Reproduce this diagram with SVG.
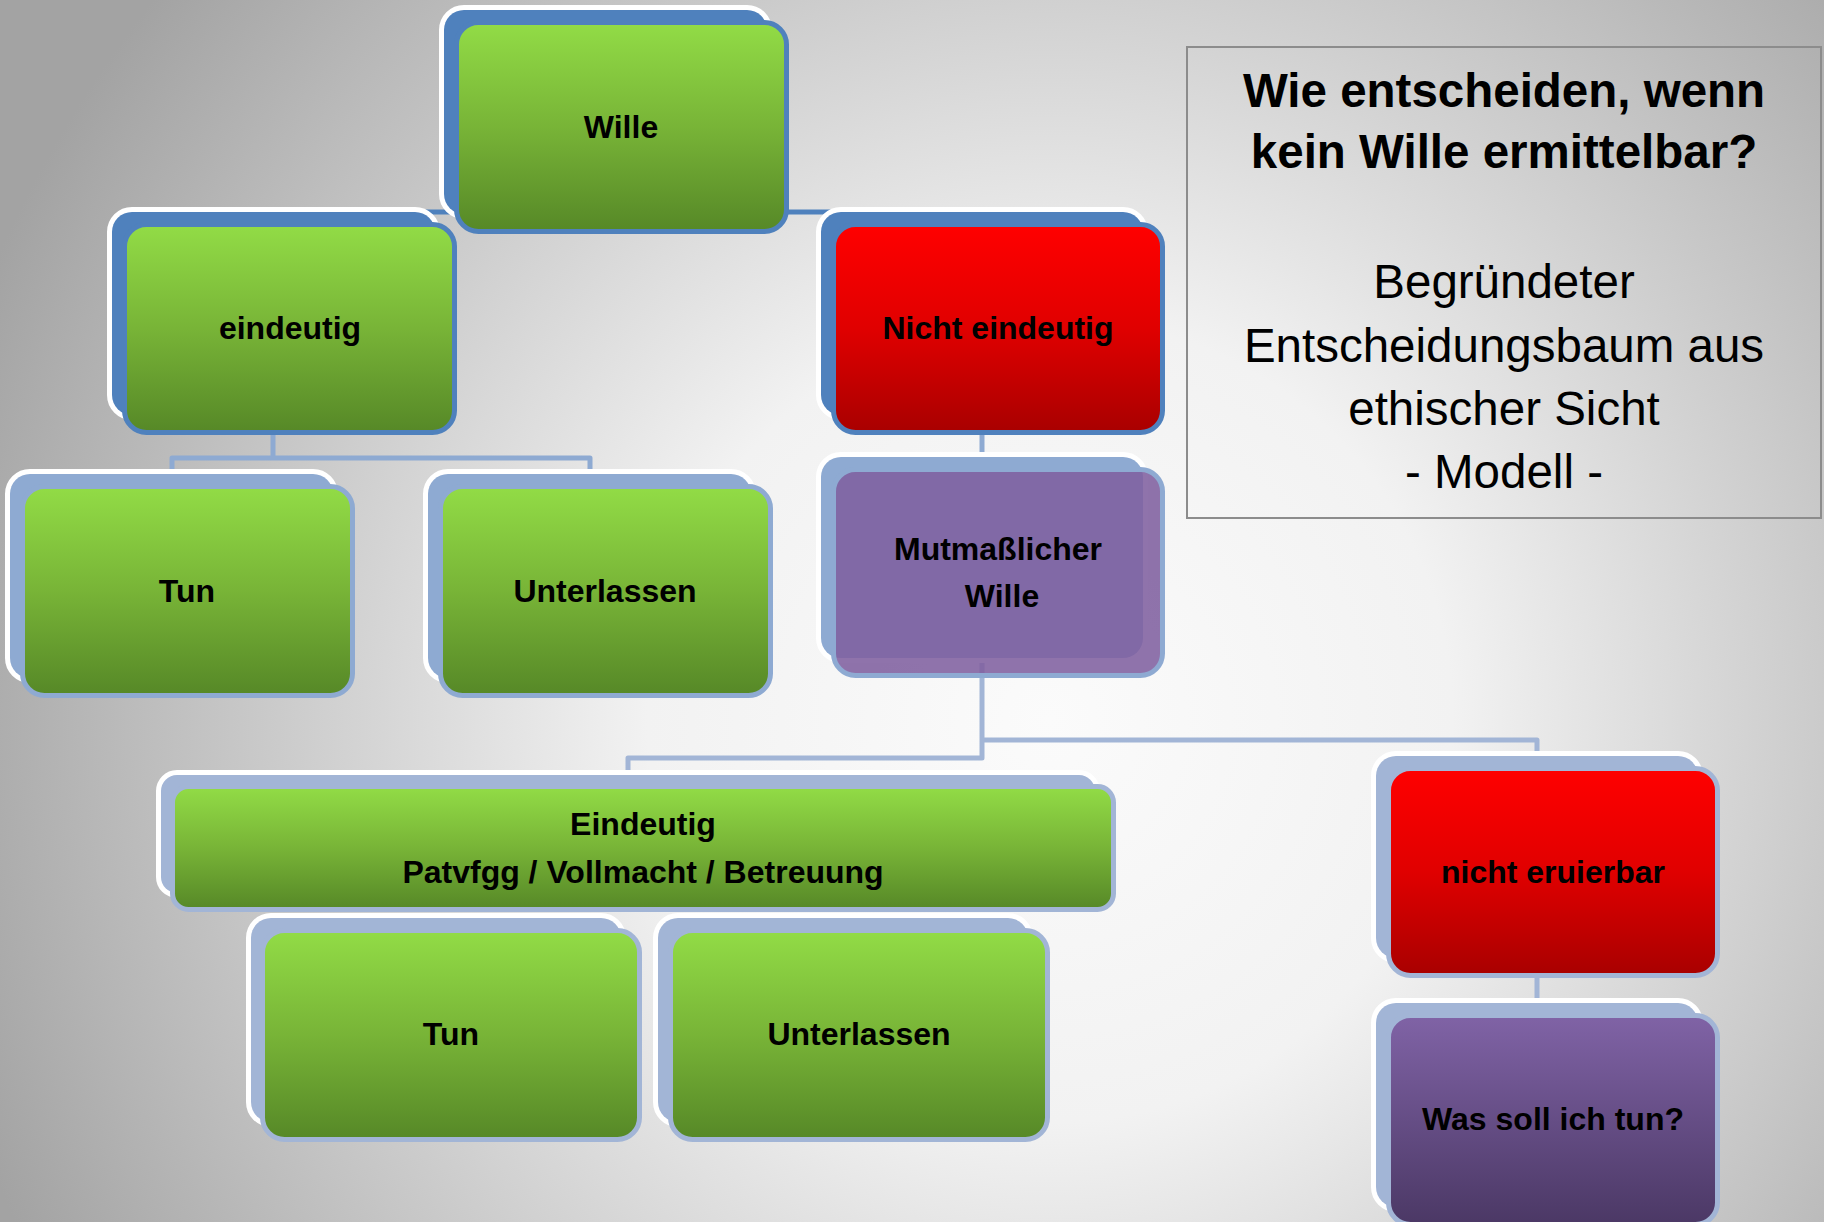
<svg xmlns="http://www.w3.org/2000/svg" width="1824" height="1222" viewBox="0 0 1824 1222">
<defs>
  <radialGradient id="bg" gradientUnits="userSpaceOnUse" cx="1050" cy="720" r="1150">
    <stop offset="0" stop-color="#fbfbfb"/>
    <stop offset="0.35" stop-color="#f2f2f2"/>
    <stop offset="1" stop-color="#a3a3a3"/>
  </radialGradient>
  <linearGradient id="green" x1="0" y1="0" x2="0" y2="1">
    <stop offset="0" stop-color="#92dc46"/>
    <stop offset="0.5" stop-color="#78b437"/>
    <stop offset="1" stop-color="#568827"/>
  </linearGradient>
  <linearGradient id="red" x1="0" y1="0" x2="0" y2="1">
    <stop offset="0" stop-color="#ff0000"/>
    <stop offset="0.5" stop-color="#e00000"/>
    <stop offset="1" stop-color="#a80000"/>
  </linearGradient>
  <linearGradient id="purple" x1="0" y1="0" x2="0" y2="1">
    <stop offset="0" stop-color="#8063a6"/>
    <stop offset="1" stop-color="#4b3865"/>
  </linearGradient>
</defs>
<style>
  .back { stroke:#ffffff; stroke-width:10; paint-order:stroke; }
  .bA { fill:#4f81bd; }
  .bB { fill:#8eaad2; }
  .bC { fill:#a2b5d6; }
  .front { stroke-width:5; }
  .sA { stroke:#4f81bd; }
  .sB { stroke:#8eaad2; }
  .sC { stroke:#a2b5d6; }
  .fg { fill:url(#green); }
  .fr { fill:url(#red); }
  .fp { fill:url(#purple); }
  .ft { fill:#7f609f; fill-opacity:0.88; }
  .lbl { font-family:"Liberation Sans", Arial, sans-serif; font-weight:bold; font-size:32px; text-anchor:middle; fill:#000000; }
  .conn { fill:none; stroke-width:5; stroke-linejoin:round; }
  .info { font-family:"Liberation Sans", Arial, sans-serif; font-size:47.5px; text-anchor:middle; fill:#000000; }
</style>
<rect x="0" y="0" width="1824" height="1222" fill="url(#bg)"/>

<g id="connectors">
  <path class="conn sA" d="M621,200 V212 M290,226 V212 H998 V226"/>
  <path class="conn sB" d="M273,428 V458 M172,478 V458 H590 V478"/>
  <path class="conn sB" d="M982,428 V470"/>
  <path class="conn sC" d="M982,658 V758 H628 V778"/>
  <path class="conn sC" d="M982,740 H1537 V760"/>
  <path class="conn sC" d="M1537,972 V1006"/>
</g>

<g id="n-wille">
  <rect class="back bA" x="444" y="10" width="323" height="204" rx="20"/>
  <rect class="front sA fg" x="456.5" y="22.5" width="330" height="209" rx="22"/>
  <text class="lbl" x="621" y="138">Wille</text>
</g>

<g id="n-eindeutig">
  <rect class="back bA" x="112" y="212" width="323" height="203" rx="20"/>
  <rect class="front sA fg" x="124.5" y="224.5" width="330" height="208" rx="22"/>
  <text class="lbl" x="290" y="339">eindeutig</text>
</g>

<g id="n-nicht-eindeutig">
  <rect class="back bA" x="821" y="212" width="322" height="203" rx="20"/>
  <rect class="front sA fr" x="833.5" y="224.5" width="329" height="208" rx="22"/>
  <text class="lbl" x="998" y="339">Nicht eindeutig</text>
</g>

<g id="n-tun-1">
  <rect class="back bB" x="10" y="474" width="323" height="204" rx="20"/>
  <rect class="front sB fg" x="22.5" y="486.5" width="330" height="209" rx="22"/>
  <text class="lbl" x="187" y="602">Tun</text>
</g>

<g id="n-unterlassen-1">
  <rect class="back bB" x="428" y="474" width="323" height="204" rx="20"/>
  <rect class="front sB fg" x="440.5" y="486.5" width="330" height="209" rx="22"/>
  <text class="lbl" x="605" y="602">Unterlassen</text>
</g>

<g id="n-mutmasslicher-wille">
  <rect class="back bB" x="821" y="457" width="322" height="201" rx="20"/>
  <rect class="front sB ft" x="833.5" y="469.5" width="329" height="206" rx="22"/>
  <text class="lbl" x="998" y="560">Mutmaßlicher</text>
  <text class="lbl" x="1002" y="607">Wille</text>
</g>

<g id="n-eindeutig-patvfgg">
  <rect class="back bC" x="161" y="775" width="934" height="118" rx="16"/>
  <rect class="front sC fg" x="172.5" y="786.5" width="941" height="123" rx="16"/>
  <text class="lbl" x="643" y="835">Eindeutig</text>
  <text class="lbl" x="643" y="883">Patvfgg / Vollmacht / Betreuung</text>
</g>

<g id="n-tun-2">
  <rect class="back bC" x="251" y="918" width="370" height="204" rx="20"/>
  <rect class="front sC fg" x="262.5" y="930.5" width="377" height="209" rx="22"/>
  <text class="lbl" x="451" y="1045">Tun</text>
</g>

<g id="n-unterlassen-2">
  <rect class="back bC" x="658" y="918" width="370" height="204" rx="20"/>
  <rect class="front sC fg" x="670.5" y="930.5" width="377" height="209" rx="22"/>
  <text class="lbl" x="859" y="1045">Unterlassen</text>
</g>

<g id="n-nicht-eruierbar">
  <rect class="back bC" x="1376" y="756" width="322" height="202" rx="20"/>
  <rect class="front sC fr" x="1388.5" y="768.5" width="329" height="207" rx="22"/>
  <text class="lbl" x="1553" y="883">nicht eruierbar</text>
</g>

<g id="n-was-soll-ich-tun">
  <rect class="back bC" x="1376" y="1003" width="322" height="204" rx="20"/>
  <rect class="front sC fp" x="1388.5" y="1015.5" width="329" height="209" rx="22"/>
  <text class="lbl" x="1553" y="1130">Was soll ich tun?</text>
</g>

<g id="n-info">
  <rect x="1187" y="47" width="634" height="471" fill="none" stroke="#8c8c8c" stroke-width="2"/>
  <text class="info" x="1504" y="107" font-weight="bold">Wie entscheiden, wenn</text>
  <text class="info" x="1504" y="168" font-weight="bold">kein Wille ermittelbar?</text>
  <text class="info" x="1504" y="298">Begründeter</text>
  <text class="info" x="1504" y="362">Entscheidungsbaum aus</text>
  <text class="info" x="1504" y="425">ethischer Sicht</text>
  <text class="info" x="1504" y="488">- Modell -</text>
</g>
</svg>
